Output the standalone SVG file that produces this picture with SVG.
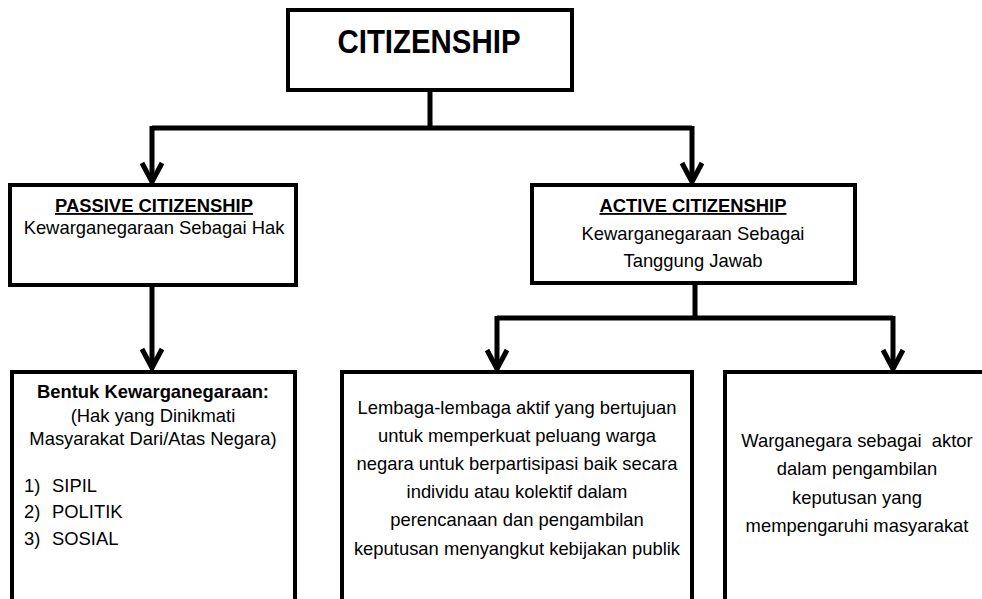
<svg xmlns="http://www.w3.org/2000/svg" width="982" height="599" viewBox="0 0 982 599">
<style>
.box{fill:#fff;stroke:#000;stroke-width:4}
.con{fill:none;stroke:#000;stroke-width:5}
.arr{fill:none;stroke:#000;stroke-width:5;stroke-linejoin:miter}
text{font-family:"Liberation Sans",Arial,sans-serif;fill:#000;font-size:18.4px}
.c{text-anchor:middle}
.b{font-weight:bold}
.u{text-decoration:underline}
</style>
<rect width="982" height="599" fill="#fff"/>
<g id="connectors">
<path class="con" d="M430 90V128M152 128H692M152 126V182M692 126V182"/>
<path class="con" d="M152 285V365"/>
<path class="con" d="M695 283V318M497 318H893M497 316V368M893 316V368"/>
<path class="arr" d="M142 163L152 182L162 163M682 163L692 182L702 163"/>
<path class="arr" d="M142 349L152 368L162 349M487 350L497 369L507 350M883 350L893 369L903 350"/>
</g>
<g id="citizenship">
<rect class="box" x="288" y="10" width="284" height="80"/>
<text class="c b" x="429" y="53" style="font-size:34px" textLength="183" lengthAdjust="spacingAndGlyphs">CITIZENSHIP</text>
</g>
<g id="passive">
<rect class="box" x="10" y="185" width="286" height="100"/>
<text class="c b u" x="154" y="212">PASSIVE CITIZENSHIP</text>
<text class="c" x="154" y="234">Kewarganegaraan Sebagai Hak</text>
</g>
<g id="active">
<rect class="box" x="532" y="185" width="323" height="98"/>
<text class="c b u" x="693" y="212">ACTIVE CITIZENSHIP</text>
<text class="c" x="693" y="240">Kewarganegaraan Sebagai</text>
<text class="c" x="693" y="267">Tanggung Jawab</text>
</g>
<g id="bentuk">
<rect class="box" x="12" y="372" width="283" height="250"/>
<text class="c b" x="153" y="398">Bentuk Kewarganegaraan:</text>
<text class="c" x="153" y="422">(Hak yang Dinikmati</text>
<text class="c" x="153" y="445">Masyarakat Dari/Atas Negara)</text>
<text x="24" y="492">1)  <tspan x="52">SIPIL</tspan></text>
<text x="24" y="518">2)  <tspan x="52">POLITIK</tspan></text>
<text x="24" y="545">3)  <tspan x="52">SOSIAL</tspan></text>
</g>
<g id="lembaga">
<rect class="box" x="342" y="372" width="350" height="250"/>
<text class="c" x="517" y="414">Lembaga-lembaga aktif yang bertujuan</text>
<text class="c" x="517" y="442">untuk memperkuat peluang warga</text>
<text class="c" x="517" y="470">negara untuk berpartisipasi baik secara</text>
<text class="c" x="517" y="498">individu atau kolektif dalam</text>
<text class="c" x="517" y="526">perencanaan dan pengambilan</text>
<text class="c" x="517" y="555">keputusan menyangkut kebijakan publik</text>
</g>
<g id="warganegara">
<rect class="box" x="725" y="372" width="280" height="250"/>
<text class="c" x="857" y="447" xml:space="preserve">Warganegara sebagai  aktor</text>
<text class="c" x="857" y="475">dalam pengambilan</text>
<text class="c" x="857" y="504">keputusan yang</text>
<text class="c" x="857" y="532">mempengaruhi masyarakat</text>
</g>
</svg>
